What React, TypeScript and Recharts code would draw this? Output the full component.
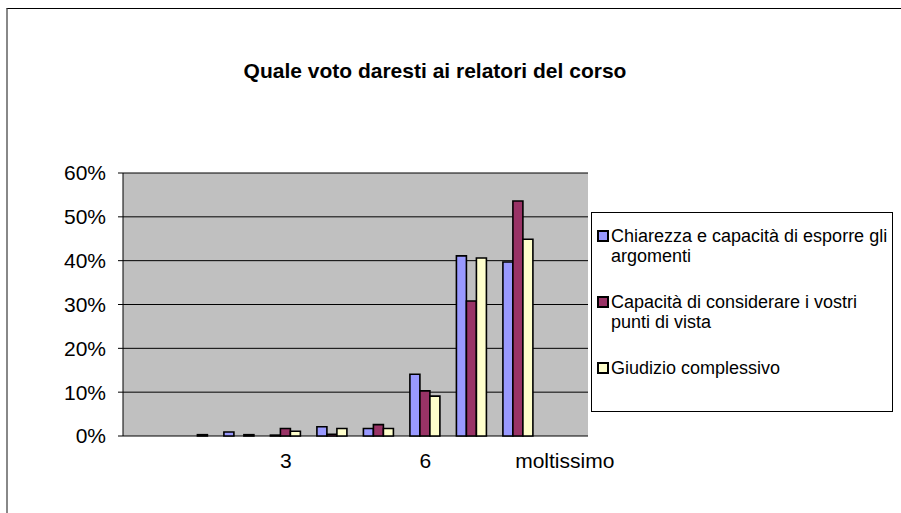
import React from "react";
import { BarChart, Bar, XAxis, YAxis, CartesianGrid, Legend } from "recharts";

// voto: labels shown every 3rd category, first one left blank
const categories = ["", "1", "2", "3", "4", "5", "6", "7", "8", "moltissimo"];
const chiarezza = [0, 0, 0.009, 0.002, 0.021, 0.017, 0.141, 0.411, 0.397, 0];
const considerare = [0, 0, 0, 0.017, 0.004, 0.026, 0.103, 0.308, 0.536, 0];
const giudizio = [0, 0.003, 0.003, 0.011, 0.017, 0.017, 0.091, 0.406, 0.449, 0];
const yTicks = [0, 0.1, 0.2, 0.3, 0.4, 0.5, 0.6];
const boundaryTicks = [0, 1, 2, 3, 4, 5, 6, 7, 8, 9, 10];

const SERIES = [
  { key: "chiarezza", name: "Chiarezza e capacità di esporre gli argomenti", color: "#9999FF" },
  { key: "considerare", name: "Capacità di considerare i vostri punti di vista", color: "#993366" },
  { key: "giudizio", name: "Giudizio complessivo", color: "#FFFFCC" },
];

const data = categories.map((name, i) => ({
  name,
  chiarezza: chiarezza[i],
  considerare: considerare[i],
  giudizio: giudizio[i],
}));

const FONT = '"Liberation Sans", Arial, sans-serif';

const seriesOrder = (item: any) => SERIES.findIndex((s) => s.name === item.value);

function LegendBox({ payload }: any) {
  // keep the order of the series, not alphabetical
  const items = [...(payload || [])].sort((a, b) => seriesOrder(a) - seriesOrder(b));
  return (
    <div
      style={{
        width: "100%",
        height: "100%",
        boxSizing: "border-box",
        border: "1px solid #000",
        background: "#fff",
        padding: "13px 0 0 5px",
        fontFamily: FONT,
        fontSize: 18,
        lineHeight: "20px",
        color: "#000",
      }}
    >
      {items.map((p: any) => (
        <div key={p.value} style={{ display: "flex", alignItems: "flex-start", marginBottom: 26 }}>
          <span
            style={{
              width: 8,
              height: 8,
              border: "2px solid #000",
              background: p.color,
              marginTop: 4,
              marginRight: 2,
              flex: "none",
            }}
          />
          <span style={{ width: 282 }}>{p.value}</span>
        </div>
      ))}
    </div>
  );
}

export default function App() {
  return (
    <div
      style={{
        position: "absolute",
        left: 0,
        top: 0,
        width: 901,
        height: 513,
        overflow: "hidden",
        background: "#fff",
      }}
    >
      <div
        style={{
          position: "absolute",
          left: 6,
          top: 8,
          width: 1000,
          height: 600,
          borderTop: "1px solid #000",
          borderLeft: "2px solid #888",
        }}
      />
      <div
        style={{
          position: "absolute",
          left: 0,
          top: 59,
          width: 870,
          textAlign: "center",
          fontFamily: FONT,
          fontWeight: "bold",
          fontSize: 21,
          lineHeight: "24px",
          color: "#000",
        }}
      >
        Quale voto daresti ai relatori del corso
      </div>
      <div style={{ position: "absolute", left: 0, top: 0 }}>
        <BarChart
          width={901}
          height={513}
          data={data}
          margin={{ top: 173, right: 313, left: 63, bottom: 37 }}
          barCategoryGap="17%"
          barGap={0}
          style={{ fontFamily: FONT }}
        >
          <CartesianGrid
            vertical={false}
            stroke="#000"
            fill="#C0C0C0"
            fillOpacity={1}
          />
          <XAxis
            xAxisId="bounds"
            type="number"
            domain={[0, 10]}
            ticks={boundaryTicks}
            height={0}
            axisLine={{ stroke: "#000" }}
            tickLine={{ stroke: "#000" }}
            tickSize={5}
            tickFormatter={() => ""}
            allowDataOverflow
          />
          <XAxis
            dataKey="name"
            height={40}
            interval={2}
            axisLine={false}
            tickLine={false}
            tickSize={0}
            tickMargin={17}
            tick={{ fontSize: 21, fill: "#000", fontFamily: FONT }}
          />
          <XAxis
            xAxisId="top"
            dataKey="name"
            orientation="top"
            height={0}
            axisLine={{ stroke: "#888", strokeWidth: 2 }}
            tickLine={false}
            tick={false}
          />
          <YAxis
            domain={[0, 0.6]}
            ticks={yTicks}
            width={60}
            axisLine={{ stroke: "#000" }}
            tickLine={{ stroke: "#000" }}
            tickSize={5}
            tickMargin={12}
            tickFormatter={(v: number) => `${Math.round(v * 100)}%`}
            tick={{ fontSize: 21, fill: "#000", fontFamily: FONT }}
          />
          <YAxis
            yAxisId="right"
            orientation="right"
            domain={[0, 0.6]}
            width={0}
            axisLine={{ stroke: "#888", strokeWidth: 2 }}
            tickLine={false}
            tick={false}
          />
          <Legend
            layout="horizontal"
            align="center"
            verticalAlign="middle"
            width={302}
            height={200}
            itemSorter={seriesOrder}
            wrapperStyle={{ left: 591, top: 212, width: 302, height: 200 }}
            content={<LegendBox />}
          />
          {SERIES.map((s) => (
            <Bar
              key={s.key}
              dataKey={s.key}
              name={s.name}
              fill={s.color}
              stroke="#000"
              strokeWidth={1.6}
              isAnimationActive={false}
            />
          ))}
        </BarChart>
      </div>
    </div>
  );
}
